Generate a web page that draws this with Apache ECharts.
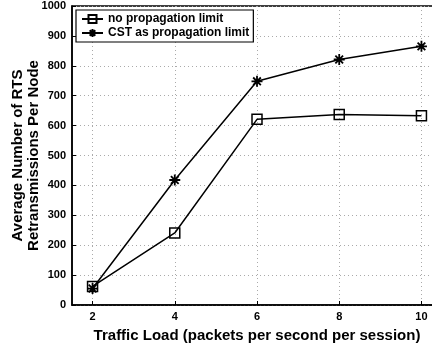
<!DOCTYPE html>
<html>
<head>
<meta charset="utf-8">
<script src="https://cdn.jsdelivr.net/npm/echarts@6/dist/echarts.min.js"></script>
<style>html,body{margin:0;padding:0;background:#fff;}#c{width:432px;height:347px;}</style>
</head>
<body>
<div id="c"></div>
<script>
const xValues = [2, 4, 6, 8, 10];
const noLimit = [62, 241, 621, 637, 633];
const cstLimit = [55, 418, 748, 821, 865];
const xTicks = [2, 4, 6, 8, 10];
const seriesNames = ['no propagation limit', 'CST as propagation limit'];

const FONT = '"Liberation Sans", Arial, Helvetica, sans-serif';
const star = 'path://M0,-6L0,6M-6,0L6,0M-4.2,-4.2L4.2,4.2M-4.2,4.2L4.2,-4.2';
const square = 'path://M-5,-5L5,-5L5,5L-5,5Z';

const chart = echarts.init(document.getElementById('c'), null, {renderer: 'canvas'});
chart.setOption({
  animation: false,
  backgroundColor: '#fff',
  textStyle: {fontFamily: FONT},
  grid: {left: 72, top: 6, width: 370, height: 299, containLabel: false, outerBoundsMode: 'none',
         show: true, borderColor: '#000', borderWidth: 1.5, backgroundColor: 'transparent'},
  legend: {
    orient: 'vertical', left: 76, top: 10,
    data: seriesNames,
    borderColor: '#000', borderWidth: 1.2, backgroundColor: '#fff',
    padding: [3, 4, 3, 5], itemGap: 2, itemWidth: 21, itemHeight: 10,
    textStyle: {fontFamily: FONT, fontWeight: 'bold', fontSize: 12, color: '#000', padding: [0,0,0,0]}
  },
  xAxis: {
    type: 'value', min: 1.5, max: 10.5,
    name: 'Traffic Load (packets per second per session)',
    nameLocation: 'middle', nameGap: 23, nameMoveOverlap: false,
    nameTextStyle: {fontFamily: FONT, fontWeight: 'bold', fontSize: 15, color: '#000'},
    axisLine: {show: true, onZero: false, lineStyle: {color: '#000', width: 1.5}},
    axisTick: {show: true, inside: true, length: 4, customValues: xTicks, lineStyle: {color: '#000'}},
    axisLabel: {customValues: xTicks, fontFamily: FONT, fontWeight: 'bold', fontSize: 11, color: '#000', margin: 6,
                formatter: v => String(v)},
    splitLine: {show: true, lineStyle: {color: '#aaa', type: [1, 3], width: 1}}
  },
  yAxis: {
    type: 'value', min: 0, max: 1000, interval: 100,
    name: 'Average Number of RTS\nRetransmissions Per Node',
    nameLocation: 'middle', nameGap: 30, nameMoveOverlap: false,
    nameTextStyle: {fontFamily: FONT, fontWeight: 'bold', fontSize: 15, color: '#000', lineHeight: 16},
    axisLine: {show: true, lineStyle: {color: '#000', width: 1.5}},
    axisTick: {show: true, inside: true, length: 4, lineStyle: {color: '#000'}},
    axisLabel: {fontFamily: FONT, fontWeight: 'bold', fontSize: 11, color: '#000', margin: 6,
                formatter: v => String(v)},
    splitLine: {show: true, lineStyle: {color: '#aaa', type: [1, 3], width: 1}}
  },
  series: [
    {
      name: seriesNames[0], type: 'line',
      data: xValues.map((x, i) => [x, noLimit[i]]),
      symbol: square, symbolSize: 10,
      lineStyle: {color: '#000', width: 1.5},
      itemStyle: {color: 'rgba(0,0,0,0)', borderColor: '#000', borderWidth: 1.5}
    },
    {
      name: seriesNames[1], type: 'line',
      data: xValues.map((x, i) => [x, cstLimit[i]]),
      symbol: star, symbolSize: 11,
      lineStyle: {color: '#000', width: 1.5},
      itemStyle: {color: 'rgba(0,0,0,0)', borderColor: '#000', borderWidth: 1.8}
    }
  ]
});
</script>
</body>
</html>
